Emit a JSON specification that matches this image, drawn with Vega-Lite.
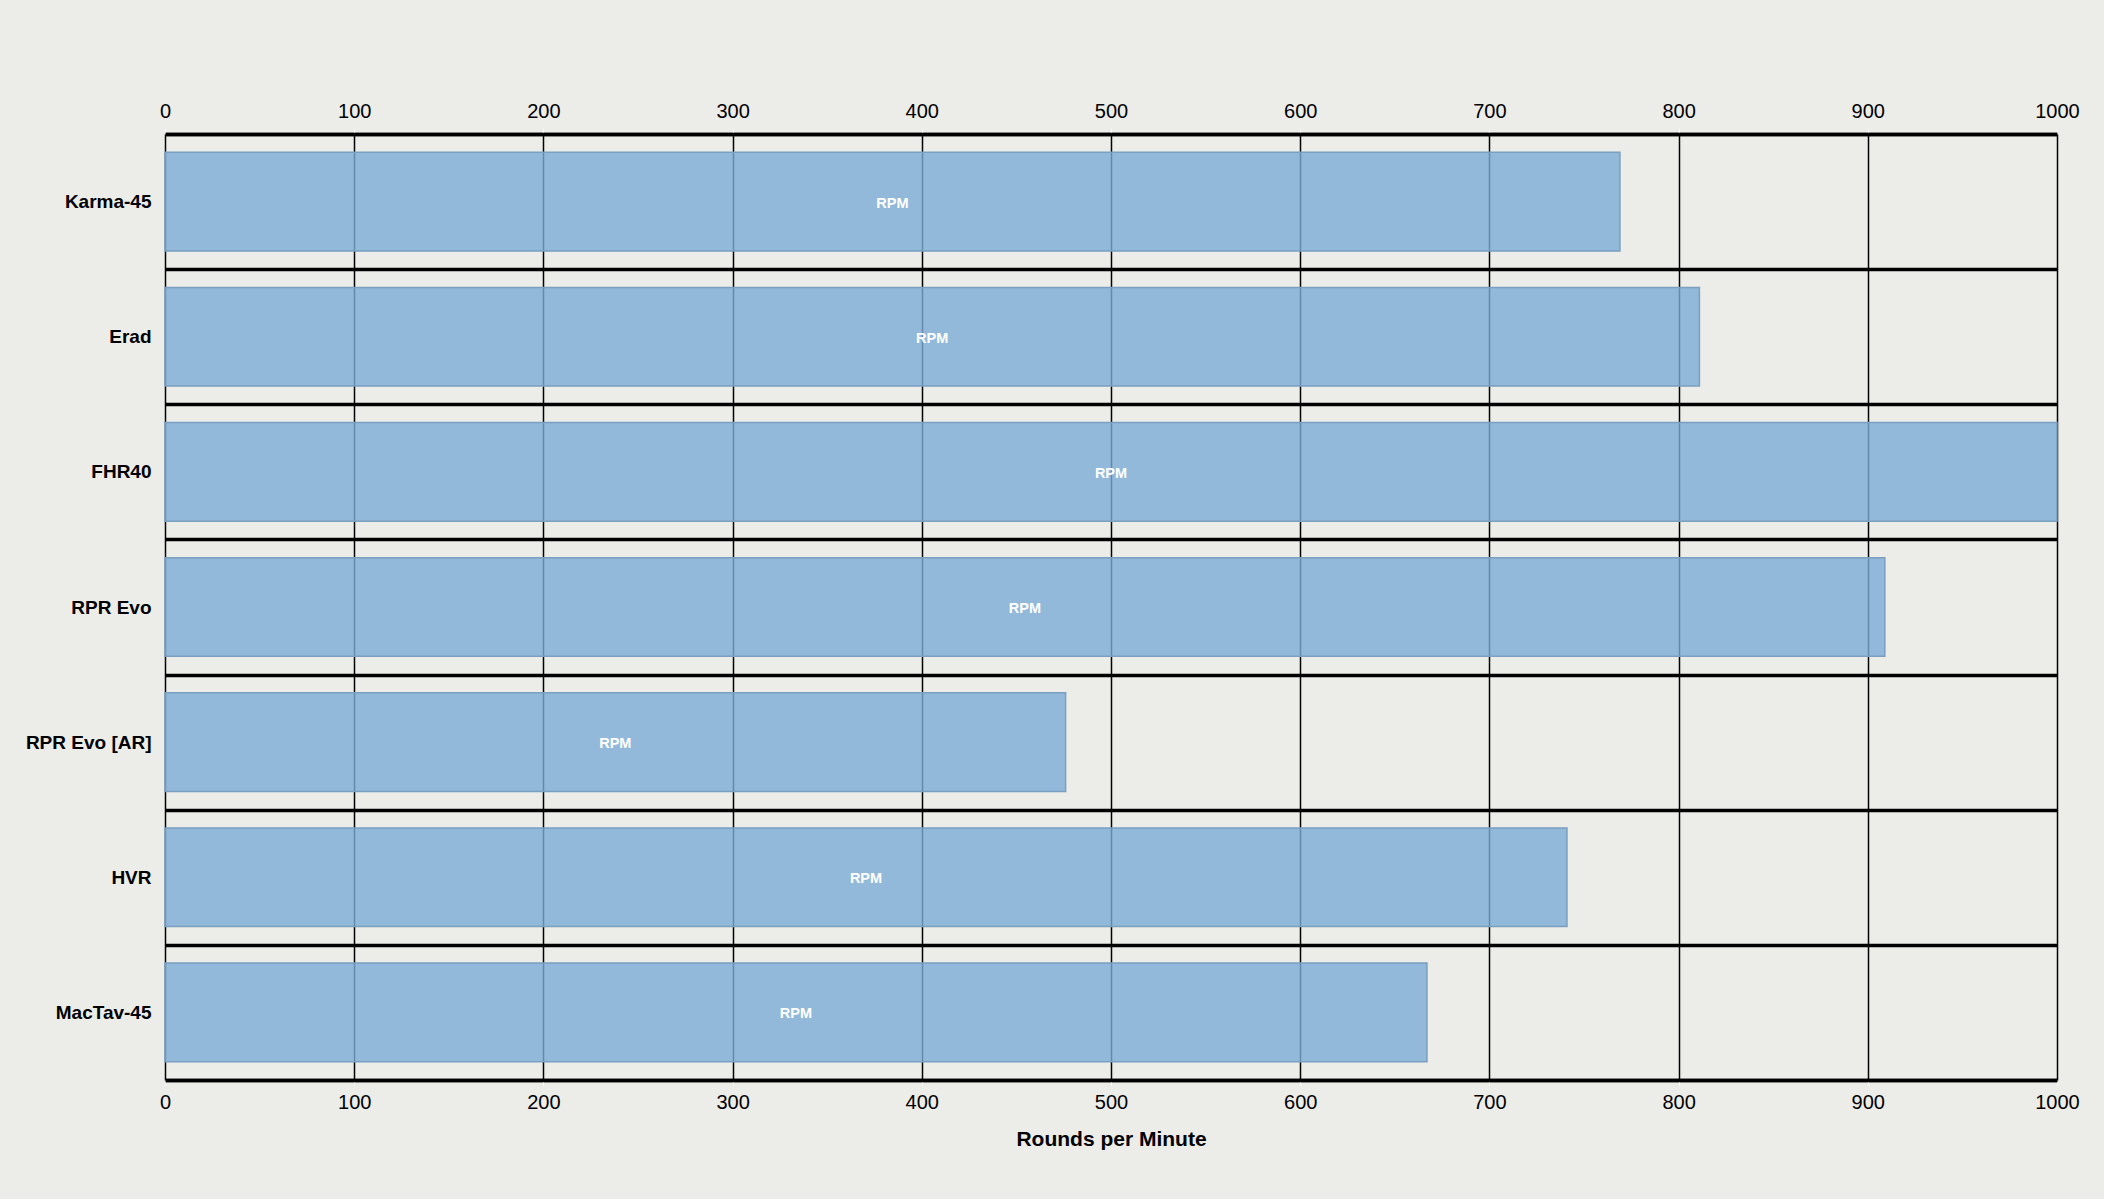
{
  "$schema": "https://vega.github.io/schema/vega-lite/v6.json",
  "width": 1892,
  "height": 946,
  "autosize": {"type": "none"},
  "padding": {"left": 165, "top": 134, "right": 47, "bottom": 119},
  "background": "#ecece8",
  "config": {
    "font": "Liberation Sans",
    "view": {"stroke": null},
    "axis": {
      "labelFont": "Liberation Sans",
      "titleFont": "Liberation Sans",
      "labelColor": "black",
      "titleColor": "black"
    }
  },
  "data": {
    "values": [
      {"weapon": "Karma-45", "rpm": 769},
      {"weapon": "Erad", "rpm": 811},
      {"weapon": "FHR40", "rpm": 1000},
      {"weapon": "RPR Evo", "rpm": 909},
      {"weapon": "RPR Evo [AR]", "rpm": 476},
      {"weapon": "HVR", "rpm": 741},
      {"weapon": "MacTav-45", "rpm": 667}
    ]
  },
  "encoding": {
    "y": {
      "field": "weapon",
      "type": "nominal",
      "sort": null,
      "title": null,
      "scale": {"paddingInner": 0, "paddingOuter": 0},
      "axis": {
        "tickBand": "extent",
        "grid": true,
        "gridColor": "black",
        "gridWidth": 3.5,
        "gridOpacity": 1,
        "domain": false,
        "ticks": false,
        "labelFontWeight": "bold",
        "labelFontSize": 19,
        "labelPadding": 14
      }
    }
  },
  "layer": [
    {
      "mark": {
        "type": "bar",
        "height": {"band": 0.73},
        "fill": "#7cacd4",
        "fillOpacity": 0.8,
        "stroke": "#7a9fc0",
        "strokeWidth": 1.5
      },
      "encoding": {
        "x": {
          "field": "rpm",
          "type": "quantitative",
          "scale": {"domain": [0, 1000], "nice": false},
          "axis": {
            "orient": "bottom",
            "title": "Rounds per Minute",
            "values": [0, 100, 200, 300, 400, 500, 600, 700, 800, 900, 1000],
            "format": "d",
            "labelFlush": false,
            "grid": true,
            "gridColor": "black",
            "gridWidth": 1.5,
            "gridOpacity": 1,
            "domainColor": "black",
            "domainWidth": 3.5,
            "tickColor": "white",
            "tickSize": 5,
            "labelFontSize": 20,
            "labelPadding": 7,
            "titleFontSize": 21,
            "titleFontWeight": "bold",
            "titlePadding": 16
          }
        }
      }
    },
    {
      "transform": [{"calculate": "datum.rpm / 2", "as": "mid"}],
      "mark": {
        "type": "text",
        "text": "RPM",
        "color": "white",
        "fontSize": 14.5,
        "fontWeight": "bold",
        "align": "center",
        "baseline": "middle",
        "dy": 2
      },
      "encoding": {
        "x": {
          "field": "mid",
          "type": "quantitative",
          "scale": {"domain": [0, 1000], "nice": false},
          "axis": {
            "orient": "top",
            "title": null,
            "values": [0, 100, 200, 300, 400, 500, 600, 700, 800, 900, 1000],
            "format": "d",
            "labelFlush": false,
            "grid": false,
            "domainColor": "black",
            "domainWidth": 3.5,
            "tickColor": "white",
            "tickSize": 5,
            "labelFontSize": 20,
            "labelPadding": 8
          }
        }
      }
    }
  ],
  "resolve": {"axis": {"x": "independent"}}
}
